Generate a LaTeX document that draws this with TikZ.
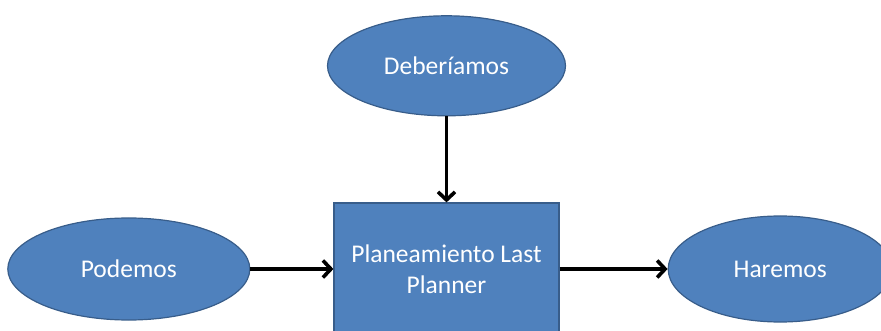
\documentclass[tikz,border=0pt]{standalone}
\usepackage{fontspec}
\setmainfont{Carlito}
\usetikzlibrary{positioning,shapes.geometric,arrows.meta}
\definecolor{azul}{HTML}{4F81BD}
\definecolor{borde}{HTML}{385D8A}
\begin{document}
\begin{tikzpicture}[x=1pt,y=-1pt,node distance=80pt,
    main node/.style={ellipse,draw=borde,line width=1.2pt,fill=azul,text=white,
        inner sep=0pt,minimum width=238pt,minimum height=100pt,
        font=\fontsize{25.5}{31}\selectfont},
    box node/.style={rectangle,draw=borde,line width=1.2pt,fill=azul,text=white,
        inner sep=0pt,minimum width=225pt,minimum height=132pt,
        align=center,font=\fontsize{25.5}{31}\selectfont},
    flecha/.style={-{Straight Barb[length=8pt,width=17pt]},line width=3.6pt,black}]
    \useasboundingbox (0,0) rectangle (881,331);
    \clip (0,0) rectangle (881,331);
    \node[box node] (plan) at (446.5,269) {Planeamiento Last\\Planner};
    \node[main node] (deb) [above=86pt of plan] {Deberíamos};
    \node[main node, minimum width=242pt, minimum height=102pt] (pod) [left=83pt of plan] {Podemos};
    \node[main node, minimum width=224pt, minimum height=106pt] (har) [right=108pt of plan] {Haremos};

    \path[flecha]
        (deb) edge (plan)
        (pod) edge (plan)
        (plan) edge (har);

    \end{tikzpicture}
\end{document}
